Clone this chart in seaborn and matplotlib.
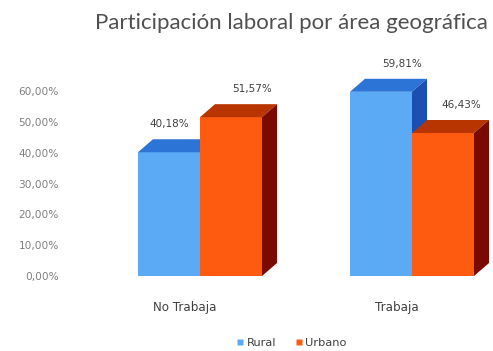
import matplotlib
matplotlib.use("Agg")
import matplotlib.pyplot as plt
import matplotlib.transforms as mtransforms
from matplotlib.patches import Polygon
from matplotlib.lines import Line2D
import seaborn as sns
import pandas as pd

# Data
categories = ["No Trabaja", "Trabaja"]
series = ["Rural", "Urbano"]
rural = [40.18, 59.81]
urbano = [51.57, 46.43]
y_ticks = [0, 10, 20, 30, 40, 50, 60]

df = pd.DataFrame({
    "categoria": categories * 2,
    "area": [series[0]] * 2 + [series[1]] * 2,
    "valor": rural + urbano,
})

front = {"Rural": "#5aaaf6", "Urbano": "#ff5b10"}
top = {"Rural": "#2c74d6", "Urbano": "#b83400"}
side = {"Rural": "#1c4fb2", "Urbano": "#7a0a00"}

# horizontal nudge of each value label (pixels), per series and category
label_nudge = {"Rural": [0, 21], "Urbano": [21, 18]}

sns.set_theme(style="white")
plt.rcParams["font.family"] = ["DejaVu Sans"]

W, H = 493, 351
fig = plt.figure(figsize=(W / 100, H / 100), dpi=100)
fig.patch.set_facecolor("white")

# axes placement (pixel based)
ax_left, ax_right = 70, 490
ax_bottom, ax_top = 276, 78
ax = fig.add_axes([ax_left / W, 1 - ax_bottom / H,
                   (ax_right - ax_left) / W, (ax_bottom - ax_top) / H])

sns.barplot(data=df, x="categoria", y="valor", hue="area", order=categories,
            hue_order=series, palette=front, width=0.585, saturation=1,
            linewidth=0, ax=ax, legend=False)

x0 = -(200 - ax_left) / 212
x1 = 1 + (ax_right - 412) / 212
ax.set_xlim(x0, x1)
ax.set_ylim(0, (ax_bottom - ax_top) / 3.08)

# depth of the 3-D faces, in pixels
dx_px, dy_px = 15, 13
fig.canvas.draw()
p0 = ax.transData.transform((0, 0))
p1 = ax.transData.transform((1, 1))
dx = dx_px / (p1[0] - p0[0])
dy = dy_px / (p1[1] - p0[1])

for s_idx, (name, cont) in enumerate(zip(series, ax.containers)):
    base_z = 2 + s_idx * 0.5
    for c_idx, bar in enumerate(cont):
        bar.set_zorder(base_z)
        xl = bar.get_x()
        w = bar.get_width()
        h = bar.get_height()
        xr = xl + w
        top_face = Polygon([(xl, h), (xr, h), (xr + dx, h + dy), (xl + dx, h + dy)],
                           closed=True, facecolor=top[name], edgecolor="none",
                           zorder=base_z + 0.1, clip_on=False)
        side_face = Polygon([(xr, 0), (xr + dx, dy), (xr + dx, h + dy), (xr, h)],
                            closed=True, facecolor=side[name], edgecolor="none",
                            zorder=base_z + 0.1, clip_on=False)
        ax.add_patch(top_face)
        ax.add_patch(side_face)
        label = f"{h:.2f}".replace(".", ",") + "%"
        ax.annotate(label, (xl + w / 2, h), xytext=(label_nudge[name][c_idx], 28),
                    textcoords="offset pixels", ha="center", va="center",
                    fontsize=7.5, color="#404040", zorder=5,
                    annotation_clip=False)

ax.set_yticks(y_ticks)
ax.set_yticklabels([f"{t},00%" for t in y_ticks], fontsize=7.6, color="#808080")
ax.tick_params(axis="y", length=0, pad=8)
ax.tick_params(axis="x", length=0, pad=18, labelsize=8.6, labelcolor="#404040")
shift = mtransforms.ScaledTranslation(-15 / 100, 0, fig.dpi_scale_trans)
for lbl in ax.get_xticklabels():
    lbl.set_transform(lbl.get_transform() + shift)
ax.set_xlabel("")
ax.set_ylabel("")
for sp in ax.spines.values():
    sp.set_visible(False)
ax.grid(False)
ax.set_facecolor("none")

fig.text(291 / W, 1 - 23 / H, "Participación laboral por área geográfica",
         ha="center", va="center", fontsize=16, color="#505050", family="Lato")

handles = [Line2D([], [], marker="s", linestyle="none", markersize=5,
                  markerfacecolor=front[s], markeredgecolor="none") for s in series]
fig.legend(handles, series, loc="center", bbox_to_anchor=(291 / W, 1 - 343 / H),
           ncol=2, frameon=False, fontsize=8.2, handlelength=0.8,
           handletextpad=0.2, columnspacing=1.6, labelcolor="#404040")

fig.savefig("out.png", dpi=100, facecolor="white")
